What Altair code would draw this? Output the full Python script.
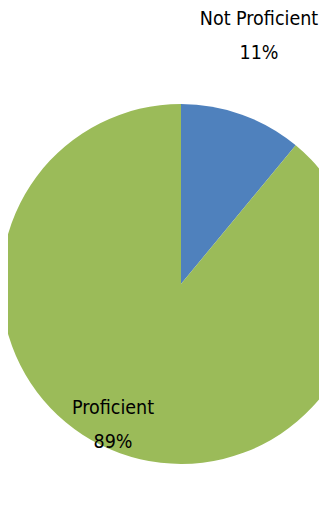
import altair as alt
import pandas as pd

categories = ["Not Proficient", "Proficient"]
values = [11, 89]
colors = ["#4F81BD", "#9BBB59"]

df = pd.DataFrame({"category": categories, "value": values, "idx": [0, 1]})

pie = alt.Chart(df).mark_arc(radius=180, stroke=None).encode(
    theta=alt.Theta("value:Q", stack=True),
    order=alt.Order("idx:Q"),
    color=alt.Color("category:N", scale=alt.Scale(domain=categories, range=colors), legend=None),
    x=alt.value(173),
    y=alt.value(276),
)


def label_layer(cat, x, y):
    return alt.Chart(df).transform_filter(
        alt.datum.category == cat
    ).transform_calculate(
        label="datum.category + '\\n' + datum.value + '%'"
    ).mark_text(
        font="DejaVu Sans Condensed",
        fontSize=19.5,
        lineBreak="\n",
        lineHeight=34,
        color="#000000",
        align="center",
        baseline="middle",
    ).encode(
        text="label:N",
        x=alt.value(x),
        y=alt.value(y),
    )


labels_np = label_layer("Not Proficient", 251, 11)
labels_p = label_layer("Proficient", 105, 400)

chart = alt.layer(pie, labels_np, labels_p).properties(
    width=311, height=496, padding=0, autosize=alt.AutoSizeParams(type="none")
).configure_view(stroke=None)

chart.save("out.html", embed_options={"renderer": "svg", "actions": False})
